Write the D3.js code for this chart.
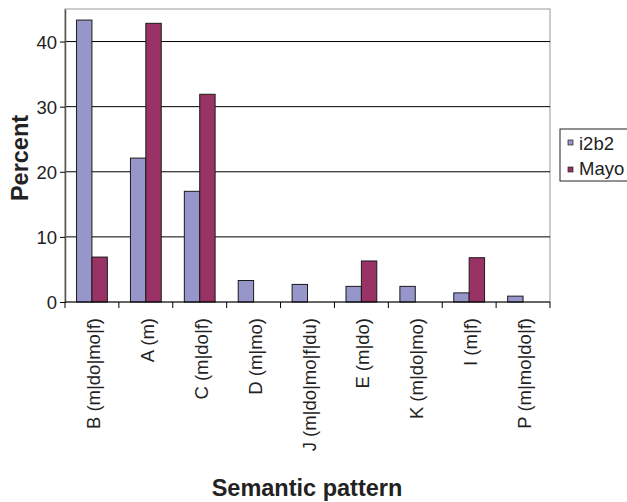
<!DOCTYPE html>
<html>
<head>
<meta charset="utf-8">
<script src="https://cdn.jsdelivr.net/npm/d3@7"></script>
<style>
  body { margin: 0; background: #fff; }
  text { font-family: "Liberation Sans", Arial, sans-serif; fill: #222; }
</style>
</head>
<body>
<svg id="canvas" width="627" height="502"></svg>
<script>
// data
const categories = ["B (m|do|mo|f)", "A (m)", "C (m|do|f)", "D (m|mo)", "J (m|do|mo|f|du)",
                    "E (m|do)", "K (m|do|mo)", "I (m|f)", "P (m|mo|do|f)"];
const seriesNames = ["i2b2", "Mayo"];
const i2b2 = [43.3, 22.1, 17.0, 3.3, 2.7, 2.4, 2.4, 1.4, 0.9];
const mayo = [6.9, 42.8, 31.9, 0, 0, 6.3, 0, 6.8, 0];
const yTicks = [0, 10, 20, 30, 40];
const colors = ["#9696cb", "#993366"];

const svg = d3.select('#canvas');
const mLeft = 65, mRight = 550, mTop = 9, mBottom = 302;

const x = d3.scaleBand().domain(categories).range([mLeft, mRight]).paddingInner(0).paddingOuter(0);
const x1 = d3.scaleBand().domain(seriesNames).range([0, x.bandwidth()]).paddingInner(0).paddingOuter(0.75);
const y = d3.scaleLinear().domain([0, 45]).range([mBottom, mTop]);

// plot border
svg.append('rect')
    .attr('x', mLeft).attr('y', mTop)
    .attr('width', mRight - mLeft).attr('height', mBottom - mTop)
    .attr('fill', 'none').attr('stroke', '#999').attr('stroke-width', 1);

// gridlines
svg.selectAll('.grid')
    .data(yTicks.filter(d => d > 0))
    .join('line')
    .attr('x1', mLeft).attr('x2', mRight)
    .attr('y1', d => y(d)).attr('y2', d => y(d))
    .attr('stroke', '#000').attr('stroke-width', 1);

// bars
const rows = categories.map((c, i) => ({cat: c, vals: [i2b2[i], mayo[i]]}));
const groups = svg.selectAll('.grp')
    .data(rows)
    .join('g')
    .attr('transform', d => `translate(${x(d.cat)},0)`);
groups.selectAll('rect')
    .data(d => d.vals.map((v, k) => ({v, s: seriesNames[k], k})).filter(e => e.v > 0))
    .join('rect')
    .attr('x', d => x1(d.s))
    .attr('width', x1.bandwidth())
    .attr('y', d => y(d.v))
    .attr('height', d => y(0) - y(d.v))
    .attr('fill', d => colors[d.k])
    .attr('stroke', '#1a1a1a')
    .attr('stroke-width', 1);

// y axis
const yAxis = svg.append('g')
    .attr('transform', `translate(${mLeft},0)`)
    .call(d3.axisLeft(y).tickValues(yTicks).tickSize(5).tickSizeOuter(0));
yAxis.select('.domain').attr('stroke', '#555').attr('stroke-width', 1.5);
yAxis.selectAll('.tick line').attr('stroke', '#000');
yAxis.selectAll('.tick text')
    .attr('font-size', 18.5).attr('fill', '#222').attr('dy', '0.35em')
    .style('font-family', '"Liberation Sans", Arial, sans-serif');

// x axis
const xAxis = svg.append('g')
    .attr('transform', `translate(0,${mBottom})`);
xAxis.append('line')
    .attr('x1', mLeft).attr('x2', mRight)
    .attr('stroke', '#000');
const tickPos = categories.map(c => x(c)).concat([mRight]);
xAxis.selectAll('.xt')
    .data(tickPos)
    .join('line')
    .attr('x1', d => d).attr('x2', d => d)
    .attr('y1', 0).attr('y2', 6)
    .attr('stroke', '#000');
xAxis.selectAll('.xl')
    .data(categories)
    .join('text')
    .attr('transform', d => `translate(${x(d) + x.bandwidth() / 2 + 8},16) rotate(-90)`)
    .attr('text-anchor', 'end')
    .attr('font-size', 18.5)
    .text(d => d);

// axis titles
svg.append('text')
    .attr('transform', `translate(28,158) rotate(-90)`)
    .attr('text-anchor', 'middle')
    .attr('font-size', 23.5).attr('font-weight', 'bold')
    .text('Percent');
svg.append('text')
    .attr('x', 307).attr('y', 496)
    .attr('text-anchor', 'middle')
    .attr('font-size', 23.5).attr('font-weight', 'bold')
    .text('Semantic pattern');

// legend
const lg = svg.append('g').attr('transform', 'translate(560,129)');
lg.append('rect')
    .attr('width', 70).attr('height', 52)
    .attr('fill', '#fff').attr('stroke', '#222');
seriesNames.forEach((s, k) => {
    lg.append('rect')
        .attr('x', 8).attr('y', 11 + k * 27)
        .attr('width', 5).attr('height', 5)
        .attr('fill', colors[k]).attr('stroke', '#222').attr('stroke-width', 0.7);
    lg.append('text')
        .attr('x', 19).attr('y', 21 + k * 25)
        .attr('font-size', 18.5)
        .text(s);
});
</script>
</body>
</html>
